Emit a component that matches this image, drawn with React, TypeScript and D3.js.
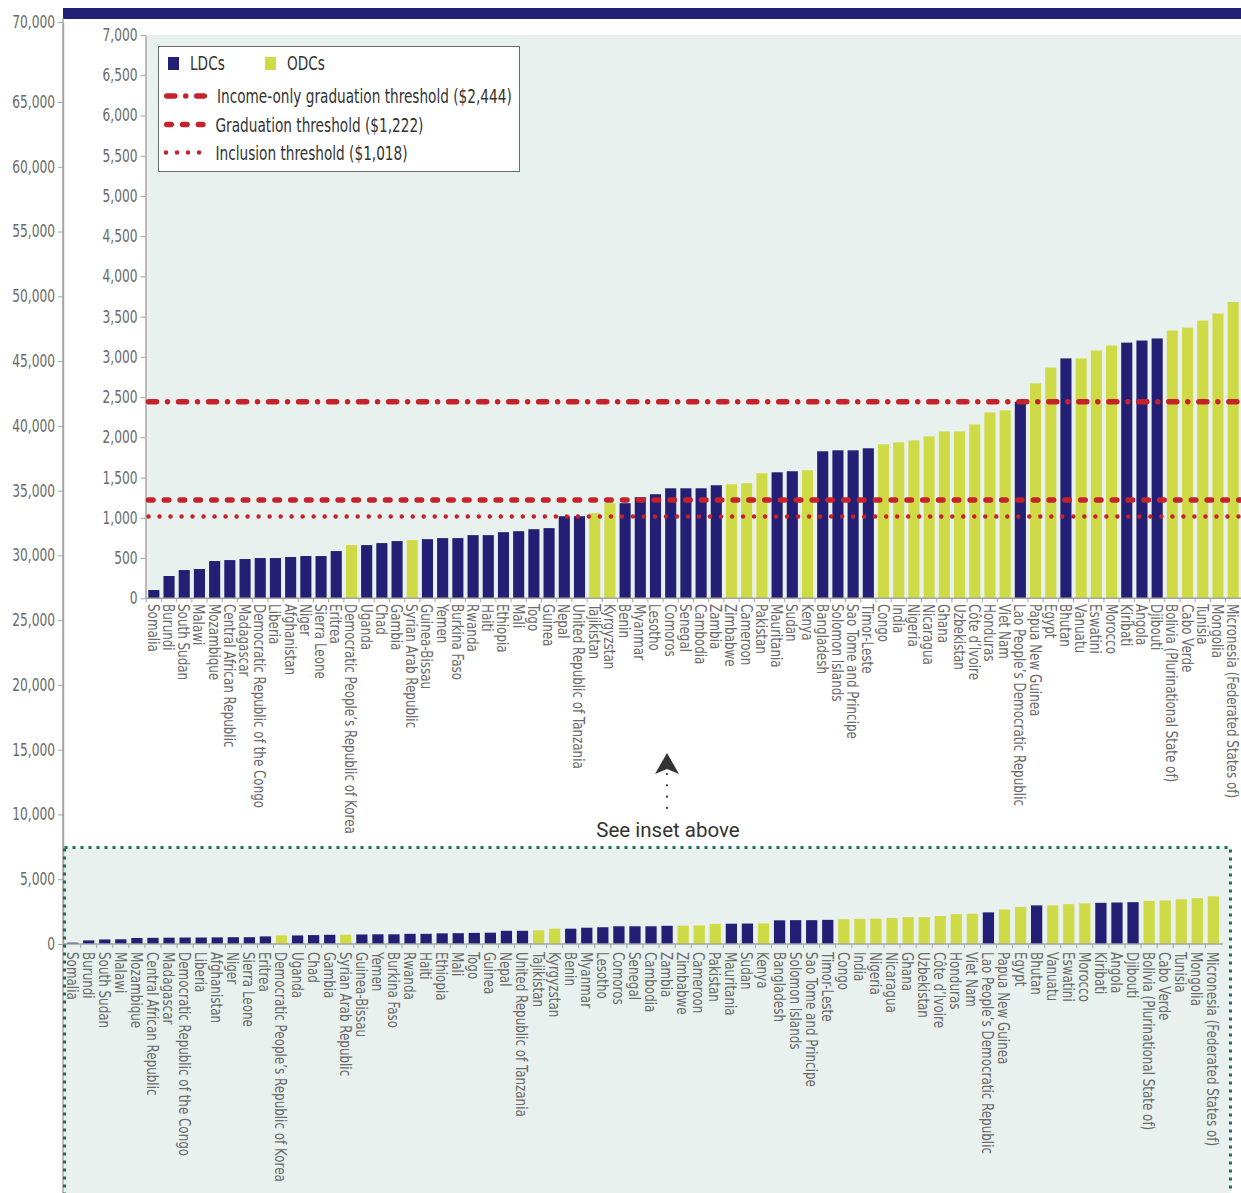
import React from 'react';
import * as d3 from 'd3';

const countries = [
  'Somalia', 'Burundi', 'South Sudan', 'Malawi', 'Mozambique', 'Central African Republic',
  'Madagascar', 'Democratic Republic of the Congo', 'Liberia', 'Afghanistan', 'Niger',
  'Sierra Leone', 'Eritrea', "Democratic People\u2019s Republic of Korea", 'Uganda', 'Chad',
  'Gambia', 'Syrian Arab Republic', 'Guinea-Bissau', 'Yemen', 'Burkina Faso', 'Rwanda', 'Haiti',
  'Ethiopia', 'Mali', 'Togo', 'Guinea', 'Nepal', 'United Republic of Tanzania', 'Tajikistan',
  'Kyrgyzstan', 'Benin', 'Myanmar', 'Lesotho', 'Comoros', 'Senegal', 'Cambodia', 'Zambia',
  'Zimbabwe', 'Cameroon', 'Pakistan', 'Mauritania', 'Sudan', 'Kenya', 'Bangladesh',
  'Solomon Islands', 'Sao Tome and Principe', 'Timor-Leste', 'Congo', 'India', 'Nigeria',
  'Nicaragua', 'Ghana', 'Uzbekistan', "C\u00f4te d\u2019Ivoire", 'Honduras', 'Viet Nam',
  "Lao People\u2019s Democratic Republic", 'Papua New Guinea', 'Egypt', 'Bhutan', 'Vanuatu',
  'Eswatini', 'Morocco', 'Kiribati', 'Angola', 'Djibouti', 'Bolivia (Plurinational State of)',
  'Cabo Verde', 'Tunisia', 'Mongolia', 'Micronesia (Federated States of)',
];

// GNI per capita, US$
const gniValues = [
  103, 277, 351, 364, 463, 475, 488, 500, 500, 513, 525, 525, 587, 661, 661, 686, 711, 723,
  735, 748, 748, 785, 785, 822, 834, 859, 872, 1020, 1020, 1058, 1182, 1182, 1256, 1293, 1367,
  1367, 1367, 1405, 1417, 1430, 1554, 1566, 1579, 1591, 1827, 1839, 1839, 1864, 1914, 1938,
  1963, 2012, 2074, 2074, 2161, 2310, 2335, 2442, 2671, 2867, 2981, 2981, 3079, 3141, 3177,
  3203, 3229, 3327, 3363, 3451, 3539, 3682,
];

const odcCountries = [
  "Democratic People\u2019s Republic of Korea", 'Syrian Arab Republic', 'Tajikistan', 'Kyrgyzstan',
  'Zimbabwe', 'Cameroon', 'Pakistan', 'Kenya', 'Congo', 'India', 'Nigeria', 'Nicaragua', 'Ghana',
  'Uzbekistan', "C\u00f4te d\u2019Ivoire", 'Honduras', 'Viet Nam', 'Papua New Guinea', 'Egypt',
  'Vanuatu', 'Eswatini', 'Morocco', 'Bolivia (Plurinational State of)', 'Cabo Verde', 'Tunisia',
  'Mongolia', 'Micronesia (Federated States of)',
];

const groupKeys = ['LDC', 'ODC'];
const groupLabels = ['LDCs', 'ODCs'];

const thresholdValues = [2444, 1222, 1018];
const thresholdLabels = [
  'Income-only graduation threshold ($2,444)',
  'Graduation threshold ($1,222)',
  'Inclusion threshold ($1,018)',
];

const NAVY = '#221f74';
const LIME = '#cfdb46';
const RED = '#c5222b';
const PANEL = '#e8f1ee';
const AXIS = '#a3a3a3';
const TXT = '#6a6a6a';
const FONT = "'DejaVu Sans Condensed', 'DejaVu Sans', sans-serif";

const lineStyles = [
  { width: 5.5, dash: '8,11,0.01,11' },
  { width: 5.5, dash: '4.5,11.3' },
  { width: 4.5, dash: '0.01,11' },
];

const renderChart = (svg: any) => {
  svg.selectAll('*').remove();

  const data = countries.map((name, i) => ({
    name,
    value: gniValues[i],
    group: odcCountries.includes(name) ? 'ODC' : 'LDC',
  }));
  const color = d3.scaleOrdinal<string>().domain(groupKeys).range([NAVY, LIME]);

  const styleTicks = (g: any) => {
    g.select('.domain').attr('stroke', AXIS).attr('stroke-width', 1.4);
    g.selectAll('.tick line').attr('stroke', AXIS);
    g.selectAll('.tick text')
      .attr('fill', TXT).attr('font-family', FONT).attr('font-size', 17)
      .attr('x', 0).attr('transform', 'translate(-8,0) scale(0.8,1)');
  };

  // ---------- outer chart (0 - 70,000) ----------
  // top segment of the printed axis is stretched, so the scale is piecewise
  const oy = d3.scaleLinear().domain([0, 65000, 70000]).range([944, 102, 22]);
  const ox = d3.scaleBand().domain(countries).range([63, 1223]).paddingInner(0.3).paddingOuter(0.25);

  // inset frame fill (lower)
  svg.append('rect')
    .attr('x', 64.5).attr('y', 847.5).attr('width', 1166).attr('height', 400)
    .attr('fill', PANEL);

  // top band
  svg.append('rect')
    .attr('x', 63).attr('y', 8).attr('width', 1178).attr('height', 11)
    .attr('fill', NAVY);

  svg.append('line')
    .attr('x1', 63).attr('x2', 63).attr('y1', 18).attr('y2', 1193)
    .attr('stroke', AXIS).attr('stroke-width', 1.4);
  svg.append('g')
    .attr('transform', 'translate(63,0)')
    .call(d3.axisLeft(oy).tickValues(d3.range(0, 70001, 5000)).tickSize(5).tickSizeOuter(0)
      .tickFormat(d3.format(',')))
    .call(styleTicks);

  svg.append('g').selectAll('rect')
    .data(data)
    .join('rect')
    .attr('x', (d: any) => ox(d.name))
    .attr('width', ox.bandwidth())
    .attr('y', (d: any) => oy(d.value))
    .attr('height', (d: any) => oy(0) - oy(d.value))
    .attr('fill', (d: any) => color(d.group));

  const drawXAxis = (x: any, y0: number, x0: number, x1: number, labelY: number) => {
    const g = svg.append('g');
    g.append('line').attr('x1', x0).attr('x2', x1).attr('y1', y0).attr('y2', y0)
      .attr('stroke', AXIS).attr('stroke-width', 1.4);
    const half = (x.step() * x.paddingInner()) / 2;
    g.selectAll('.bt')
      .data(countries)
      .join('line')
      .attr('x1', (d: string) => (x(d) as number) - half)
      .attr('x2', (d: string) => (x(d) as number) - half)
      .attr('y1', y0).attr('y2', y0 + 4)
      .attr('stroke', AXIS);
    g.selectAll('.lbl')
      .data(countries)
      .join('text')
      .attr('transform', (d: string) =>
        `translate(${(x(d) as number) + x.bandwidth() / 2},${labelY}) rotate(90) scale(0.885,1)`)
      .attr('dy', '0.4em')
      .attr('fill', TXT)
      .attr('font-family', FONT)
      .attr('font-size', 15)
      .text((d: string) => d);
  };
  drawXAxis(ox, 944, 63, 1223, 952);

  // dotted frame of the lower (zoomed-out) chart
  svg.append('rect')
    .attr('x', 64.5).attr('y', 847.5).attr('width', 1166).attr('height', 400)
    .attr('fill', 'none').attr('stroke', '#1b6e58').attr('stroke-width', 3)
    .attr('stroke-dasharray', '3,5');

  // ---------- inset (0 - 7,000) ----------
  const iy = d3.scaleLinear().domain([0, 7000]).range([598.3, 35]);
  const ix = d3.scaleBand().domain(countries).range([146, 1241]).paddingInner(0.27).paddingOuter(0.15);

  svg.append('rect')
    .attr('x', 146).attr('y', 35).attr('width', 1095).attr('height', 563.3)
    .attr('fill', PANEL);

  svg.append('g')
    .attr('transform', 'translate(145.5,0)')
    .call(d3.axisLeft(iy).tickValues(d3.range(0, 7001, 500)).tickSize(5).tickSizeOuter(0)
      .tickFormat(d3.format(',')))
    .call(styleTicks);

  svg.append('g').selectAll('rect')
    .data(data)
    .join('rect')
    .attr('x', (d: any) => ix(d.name))
    .attr('width', ix.bandwidth())
    .attr('y', (d: any) => iy(d.value))
    .attr('height', (d: any) => iy(0) - iy(d.value))
    .attr('fill', (d: any) => color(d.group));

  drawXAxis(ix, 598.3, 145.5, 1241, 604);

  // threshold lines
  svg.append('g').selectAll('line')
    .data(thresholdValues)
    .join('line')
    .attr('x1', 148.5).attr('x2', 1241)
    .attr('y1', (d: number) => iy(d)).attr('y2', (d: number) => iy(d))
    .attr('stroke', RED)
    .attr('stroke-linecap', 'round')
    .attr('stroke-width', (_: any, i: number) => lineStyles[i].width)
    .attr('stroke-dasharray', (_: any, i: number) => lineStyles[i].dash);

  // legend
  const lg = svg.append('g');
  lg.append('rect')
    .attr('x', 158.5).attr('y', 46.5).attr('width', 361).attr('height', 125)
    .attr('fill', '#fff').attr('stroke', '#6b6b6b').attr('stroke-width', 1);
  const legendText = (x: number, y: number, t: string) =>
    lg.append('text')
      .attr('transform', `translate(${x},${y}) scale(0.76,1)`)
      .attr('font-family', FONT).attr('font-size', 20).attr('fill', '#333')
      .text(t);
  groupKeys.forEach((k, i) => {
    const lx = 168 + i * 97;
    lg.append('rect').attr('x', lx).attr('y', 57).attr('width', 11).attr('height', 13)
      .attr('fill', color(k));
    legendText(lx + 22, 70, groupLabels[i]);
  });
  const rowY = [96, 124.5, 152.5];
  const sampleEnd = [204.25, 204, 200];
  thresholdLabels.forEach((t, i) => {
    lg.append('line')
      .attr('x1', i === 2 ? 166 : 166.75).attr('x2', sampleEnd[i])
      .attr('y1', rowY[i]).attr('y2', rowY[i])
      .attr('stroke', RED).attr('stroke-linecap', 'round')
      .attr('stroke-width', lineStyles[i].width)
      .attr('stroke-dasharray', lineStyles[i].dash);
    legendText(i === 0 ? 217 : 215.5, rowY[i] + 7, t);
  });

  // "See inset above" pointer
  const ax = 667;
  svg.append('path')
    .attr('d', `M${ax},753 L${ax + 12},774 L${ax},769 L${ax - 12},774 Z`)
    .attr('fill', '#333');
  svg.append('line')
    .attr('x1', ax).attr('x2', ax).attr('y1', 774).attr('y2', 808)
    .attr('stroke', '#333').attr('stroke-width', 2.2)
    .attr('stroke-linecap', 'round').attr('stroke-dasharray', '0.01,11.3');
  svg.append('text')
    .attr('x', ax + 1).attr('y', 837)
    .attr('text-anchor', 'middle')
    .attr('font-family', "Roboto, 'Noto Sans', sans-serif")
    .attr('font-size', 20.5).attr('fill', '#333')
    .text('See inset above');
};

const App: React.FC = () => {
  const ref = React.useRef<SVGSVGElement>(null);

  React.useEffect(() => {
    document.body.style.margin = '0';
    renderChart(d3.select(ref.current));
  }, []);

  return (
    <svg
      ref={ref}
      width={1241}
      height={1193}
      style={{ position: 'absolute', left: 0, top: 0, background: '#fff', display: 'block' }}
    />
  );
};

export default App;
